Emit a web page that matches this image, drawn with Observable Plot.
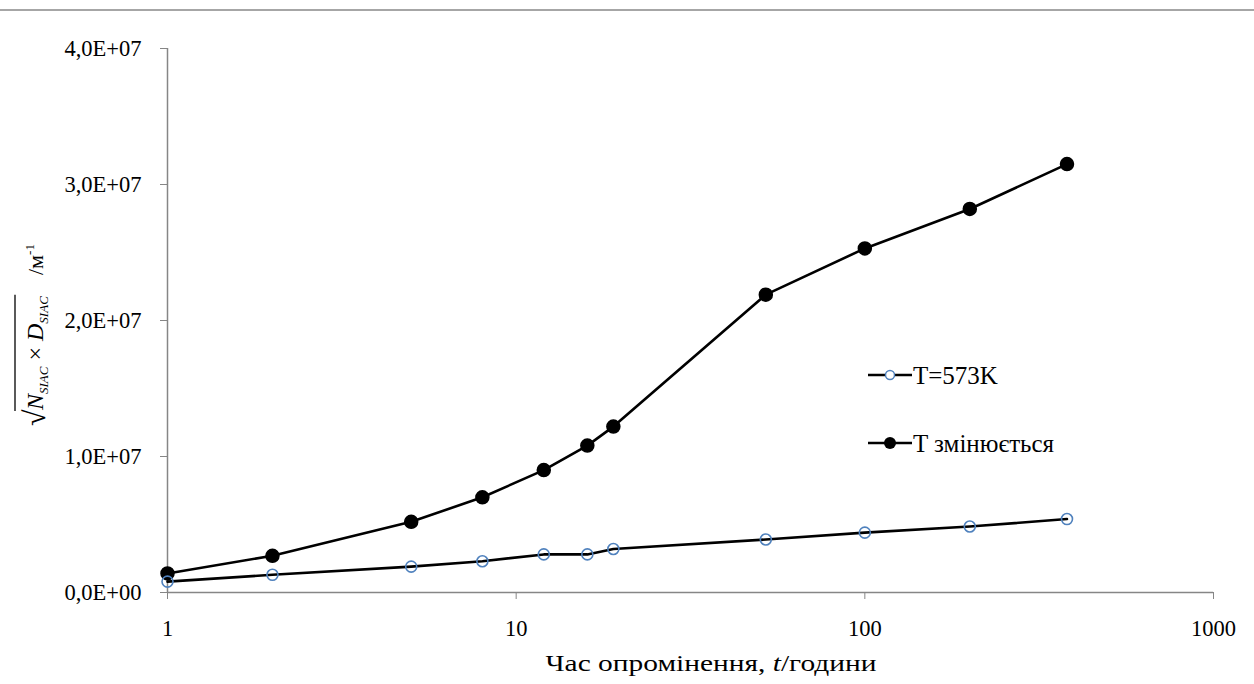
<!DOCTYPE html>
<html>
<head>
<meta charset="utf-8">
<script src="https://cdn.jsdelivr.net/npm/d3@7"></script>
<script src="https://cdn.jsdelivr.net/npm/@observablehq/plot@0.6"></script>
<style>
  html, body { margin: 0; padding: 0; background: white; }
  #wrap { position: relative; width: 1254px; height: 684px; overflow: hidden; }
  #topline { position: absolute; left: 0; top: 9px; width: 1254px; height: 0; border-top: 2px solid #a6a6a6; }
  svg [aria-label="x-axis tick"], svg [aria-label="y-axis tick"] { stroke: #868686; }
  svg text, svg tspan { font-family: "Liberation Serif", serif !important; }
</style>
</head>
<body>
<div id="wrap"><div id="topline"></div></div>
<script>
// Data
const hours = [1, 2, 5, 8, 12, 16, 19, 52, 100, 200, 380];
const valuesConst = [0.8e6, 1.3e6, 1.9e6, 2.3e6, 2.8e6, 2.8e6, 3.2e6, 3.9e6, 4.4e6, 4.85e6, 5.4e6];
const valuesVar = [1.4e6, 2.7e6, 5.2e6, 7.0e6, 9.0e6, 10.8e6, 12.2e6, 21.9e6, 25.3e6, 28.2e6, 31.5e6];
const seriesNames = ["T=573K", "T змінюється"];
const xTicks = [1, 10, 100, 1000];
const yTicks = [0, 1e7, 2e7, 3e7, 4e7];
const xTitle = ["Час опромінення, ", "t", "/години"];

const rowsConst = hours.map((h, i) => ({h, v: valuesConst[i]}));
const rowsVar = hours.map((h, i) => ({h, v: valuesVar[i]}));

const fmtY = d => d === 0 ? "0,0E+00" : (d / 1e7).toFixed(1).replace(".", ",") + "E+07";
const ff = "Liberation Serif";

const chart = Plot.plot({
  width: 1254, height: 684,
  marginLeft: 167, marginRight: 41, marginTop: 48, marginBottom: 92,
  style: {fontFamily: ff, fontSize: "22.5px", background: "white", color: "black", overflow: "visible"},
  x: {type: "log", domain: [1, 1000]},
  y: {domain: [0, 4e7]},
  marks: [
    Plot.axisX({ticks: xTicks, tickSize: 7, tickPadding: 21, tickFormat: d => String(d), label: null}),
    Plot.axisY({ticks: yTicks, tickSize: 7, tickPadding: 19, tickFormat: fmtY, label: null}),
    Plot.ruleY([0], {stroke: "#868686", strokeWidth: 1.5}),
    Plot.ruleX([1], {stroke: "#868686", strokeWidth: 1.5}),
    Plot.line(rowsConst, {x: "h", y: "v", stroke: "black", strokeWidth: 2.6}),
    Plot.line(rowsVar, {x: "h", y: "v", stroke: "black", strokeWidth: 2.6}),
    Plot.dot(rowsVar, {x: "h", y: "v", r: 6.5, fill: "black", stroke: "black"}),
    Plot.dot(rowsConst, {x: "h", y: "v", r: 5.5, fill: "none", stroke: "#4f81bd", strokeWidth: 1.6})
  ]
});
chart.style.position = "absolute";
chart.style.left = "0px";
chart.style.top = "0px";
chart.setAttribute("font-family", ff);
document.getElementById("wrap").prepend(chart);

const svg = d3.select(chart);

// X axis title
const xt = svg.append("text")
  .attr("x", 711).attr("y", 671)
  .attr("text-anchor", "middle")
  .attr("font-size", 24).attr("fill", "black")
  .attr("textLength", 331).attr("lengthAdjust", "spacingAndGlyphs");
xt.append("tspan").text(xTitle[0]);
xt.append("tspan").attr("font-style", "italic").text(xTitle[1]);
xt.append("tspan").text(xTitle[2]);

// Y axis title (rotated group; local x runs upward on screen)
const yg = svg.append("g").attr("transform", "translate(43,426) rotate(-90)").attr("fill", "black");
const sq = yg.append("text").attr("x", 0).attr("y", 2).attr("text-anchor", "start")
  .attr("font-size", 30).text("√");
const sqW = sq.node().getBBox().width;
const rad = yg.append("text").attr("x", sqW - 1).attr("y", 0).attr("text-anchor", "start").attr("font-size", 24);
rad.append("tspan").attr("font-style", "italic").text("N");
rad.append("tspan").attr("font-style", "italic").attr("font-size", 13).attr("dy", 5).text("SIAC");
rad.append("tspan").attr("dy", -5).text(" × ");
rad.append("tspan").attr("font-style", "italic").text("D");
rad.append("tspan").attr("font-style", "italic").attr("font-size", 13).attr("dy", 5).text("SIAC");
const rb = rad.node().getBBox();
yg.append("line").attr("x1", sqW - 2).attr("x2", rb.x + rb.width + 1).attr("y1", -28).attr("y2", -28)
  .attr("stroke", "black").attr("stroke-width", 1.3);
const unit = yg.append("text").attr("x", 151).attr("y", 0).attr("text-anchor", "start").attr("font-size", 22);
unit.append("tspan").text("/м");
unit.append("tspan").attr("dy", -9).attr("font-size", 13).text("-1");

// Legend
const leg = svg.append("g").attr("font-size", 25);
seriesNames.forEach((name, i) => {
  const y = 375 + i * 68;
  const g = leg.append("g").attr("transform", `translate(868,${y})`);
  g.append("line").attr("x1", 0).attr("x2", 44).attr("y1", 0).attr("y2", 0)
    .attr("stroke", "black").attr("stroke-width", 2.6);
  if (i === 0) {
    g.append("circle").attr("cx", 22).attr("cy", 0).attr("r", 4.5)
      .attr("fill", "white").attr("stroke", "#4f81bd").attr("stroke-width", 1.5);
  } else {
    g.append("circle").attr("cx", 22).attr("cy", 0).attr("r", 6).attr("fill", "black");
  }
  g.append("text").attr("x", 45).attr("y", 0).attr("dy", "0.34em")
    .attr("text-anchor", "start").attr("fill", "black").text(name);
});
svg.selectAll("text").style("font-family", ff);
</script>
</body>
</html>
